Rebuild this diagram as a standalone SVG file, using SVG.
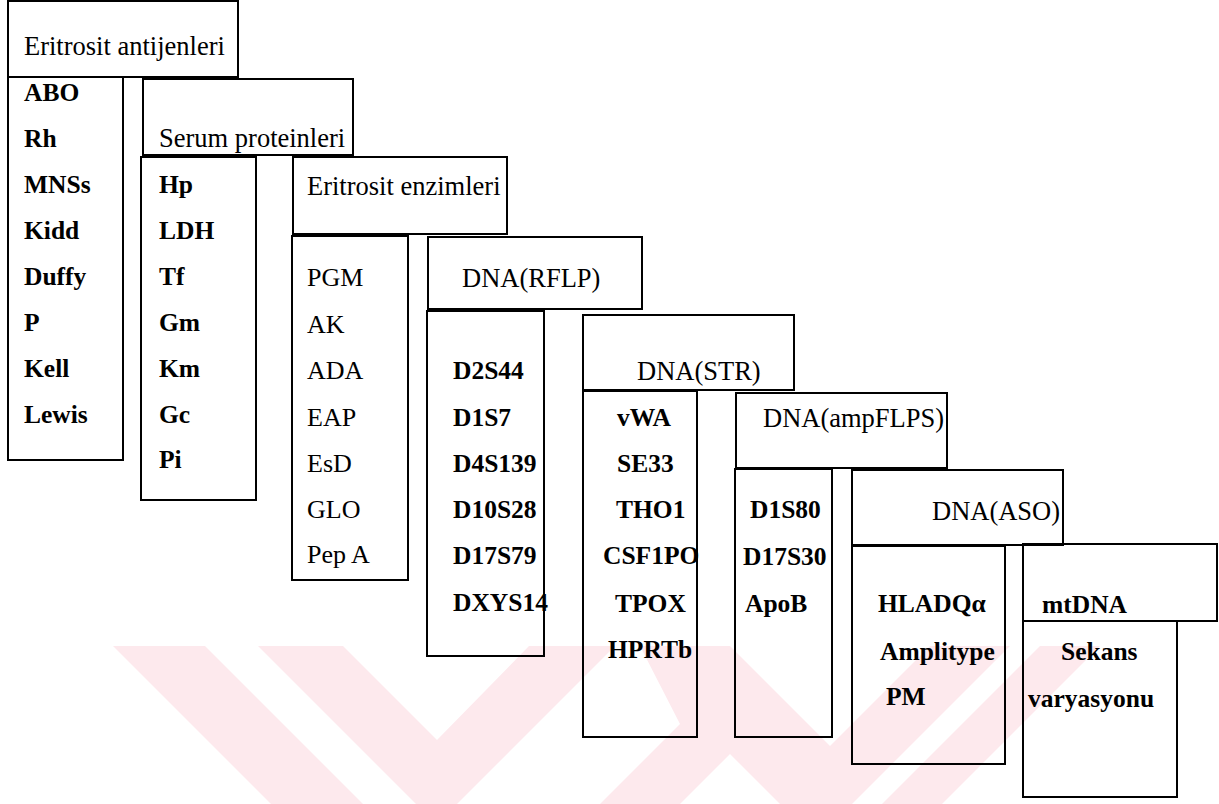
<svg xmlns="http://www.w3.org/2000/svg" width="1219" height="804" viewBox="0 0 1219 804">
<style>
.box{fill:none;stroke:#000;stroke-width:2}
.h{font-family:"Liberation Serif","Times New Roman",serif;font-size:26.5px;fill:#000}
.r{font-family:"Liberation Serif","Times New Roman",serif;font-size:26px;fill:#000}
.b{font-family:"Liberation Serif","Times New Roman",serif;font-size:25.5px;font-weight:bold;fill:#000}
.wm{fill:#fde9ed}
</style>
<rect width="1219" height="804" fill="#fff"/>
<g id="watermark">
<polygon class="wm" points="113,646 205,646 363,804 271,804"/>
<polygon class="wm" points="258,646 343,646 437,740 529,646 615,646 457,804 416,804"/>
<polygon class="wm" points="640,646 730,646 830,746 930,646 1010,646 852,804 780,804 730,754 680,804 600,804 680,724"/>
<polygon class="wm" points="1040,646 1100,646 942,804 882,804"/>
</g>
<g id="col1-eritrosit-antijenleri">
<rect class="box" x="8" y="1" width="230" height="76"/>
<rect class="box" x="8" y="77" width="115" height="383"/>
<text class="h" x="24" y="55">Eritrosit antijenleri</text>
<text class="b" x="24" y="101">ABO</text>
<text class="b" x="24" y="147">Rh</text>
<text class="b" x="24" y="193">MNSs</text>
<text class="b" x="24" y="239">Kidd</text>
<text class="b" x="24" y="285">Duffy</text>
<text class="b" x="24" y="331">P</text>
<text class="b" x="24" y="377">Kell</text>
<text class="b" x="24" y="423">Lewis</text>
</g>
<g id="col2-serum-proteinleri">
<rect class="box" x="143" y="79" width="210" height="76"/>
<rect class="box" x="141" y="157" width="115" height="343"/>
<text class="h" x="159" y="147">Serum proteinleri</text>
<text class="b" x="159" y="193">Hp</text>
<text class="b" x="159" y="239">LDH</text>
<text class="b" x="159" y="285">Tf</text>
<text class="b" x="159" y="331">Gm</text>
<text class="b" x="159" y="377">Km</text>
<text class="b" x="159" y="423">Gc</text>
<text class="b" x="159" y="468">Pi</text>
</g>
<g id="col3-eritrosit-enzimleri">
<rect class="box" x="293" y="157" width="214" height="77"/>
<rect class="box" x="292" y="236" width="116" height="344"/>
<text class="h" x="307" y="195">Eritrosit enzimleri</text>
<text class="r" x="307" y="286">PGM</text>
<text class="r" x="307" y="333">AK</text>
<text class="r" x="307" y="379">ADA</text>
<text class="r" x="307" y="426">EAP</text>
<text class="r" x="307" y="472">EsD</text>
<text class="r" x="307" y="518">GLO</text>
<text class="r" x="307" y="563">Pep A</text>
</g>
<g id="col4-dna-rflp">
<rect class="box" x="428" y="237" width="214" height="72"/>
<rect class="box" x="427" y="311" width="117" height="345"/>
<text class="h" x="462" y="287">DNA(RFLP)</text>
<text class="b" x="453" y="379">D2S44</text>
<text class="b" x="453" y="426">D1S7</text>
<text class="b" x="453" y="472">D4S139</text>
<text class="b" x="453" y="518">D10S28</text>
<text class="b" x="453" y="564">D17S79</text>
<text class="b" x="453" y="611">DXYS14</text>
</g>
<g id="col5-dna-str">
<rect class="box" x="583" y="315" width="211" height="75"/>
<rect class="box" x="583" y="391" width="114" height="346"/>
<text class="h" x="637" y="380">DNA(STR)</text>
<text class="b" x="617" y="426">vWA</text>
<text class="b" x="617" y="472">SE33</text>
<text class="b" x="616" y="518">THO1</text>
<text class="b" x="603" y="564">CSF1PO</text>
<text class="b" x="615" y="612">TPOX</text>
<text class="b" x="608" y="658">HPRTb</text>
</g>
<g id="col6-dna-ampflps">
<rect class="box" x="736" y="393" width="211" height="75"/>
<rect class="box" x="735" y="469" width="97" height="268"/>
<text class="h" x="763" y="427">DNA(ampFLPS)</text>
<text class="b" x="750" y="518">D1S80</text>
<text class="b" x="743" y="565">D17S30</text>
<text class="b" x="745" y="612">ApoB</text>
</g>
<g id="col7-dna-aso">
<rect class="box" x="852" y="470" width="211" height="75"/>
<rect class="box" x="852" y="546" width="153" height="218"/>
<text class="h" x="932" y="520">DNA(ASO)</text>
<text class="b" x="878" y="612">HLADQα</text>
<text class="b" x="880" y="660">Amplitype</text>
<text class="b" x="886" y="705">PM</text>
</g>
<g id="col8-mtdna">
<rect class="box" x="1023" y="544" width="194" height="77"/>
<rect class="box" x="1023" y="621" width="154" height="176"/>
<text class="b" x="1042" y="613">mtDNA</text>
<text class="b" x="1061" y="660">Sekans</text>
<text class="b" x="1028" y="707">varyasyonu</text>
</g>
</svg>
